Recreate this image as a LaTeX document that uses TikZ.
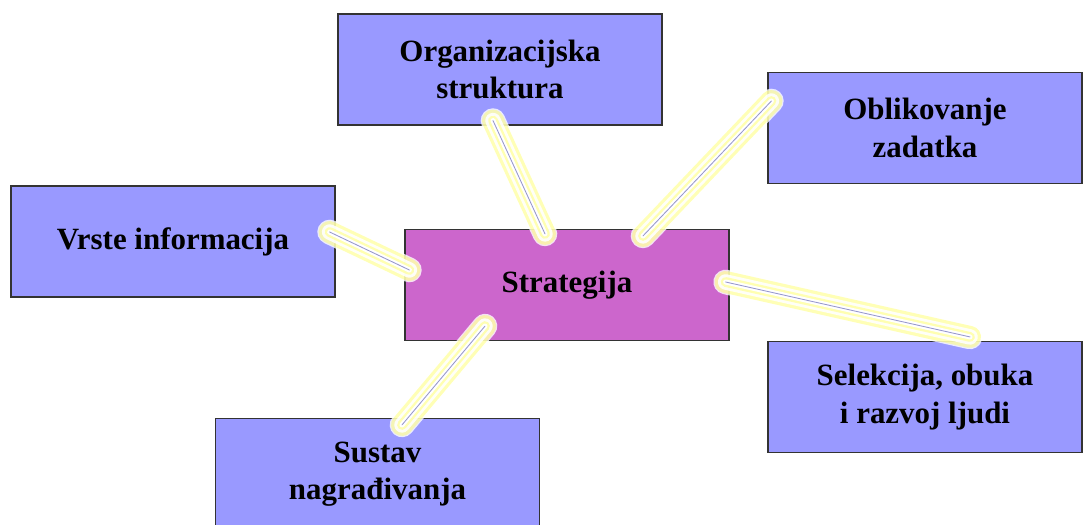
\documentclass[tikz,border=0pt]{standalone}
\usepackage{fontspec}
\setmainfont{Liberation Serif}
\usetikzlibrary{calc}

\definecolor{boxblue}{RGB}{153,153,255}
\definecolor{boxpink}{RGB}{204,102,204}
\definecolor{linkline}{RGB}{150,150,205}
\definecolor{glowyellow}{RGB}{255,255,110}

\begin{document}
\begin{tikzpicture}[x=0.025cm, y=-0.025cm,
    every node/.style={draw=black!80, line width=0.8pt, fill=boxblue, inner sep=0pt,
      minimum width=8.1cm, minimum height=2.775cm, align=center,
      font=\fontsize{22}{26.5}\selectfont\bfseries}]
  \useasboundingbox (0,0) rectangle (1083,525);
  \clip (0,0) rectangle (1083,525);
  \tikzset{link/.style={draw=linkline, line width=0.6pt, line cap=round,
      preaction={draw=white, opacity=0.8, line width=17.5pt, line cap=round},
      preaction={draw=glowyellow, opacity=0.5, line width=15.6pt, line cap=round},
      preaction={draw=white, opacity=0.9, line width=11pt, line cap=round},
      preaction={draw=glowyellow, opacity=0.5, line width=7pt, line cap=round},
      preaction={draw=white, line width=3.6pt, line cap=round}}}
  \node (org) at (500, 69.5) {Organizacijska\\struktura};
  \node[minimum width=7.85cm] (obl) at (925, 128) {Oblikovanje\\zadatka};
  \node (vrste) at (173, 241.5) {Vrste informacija};
  \node[fill=boxpink] (strat) at (567, 285) {Strategija};
  \node[minimum width=7.85cm] (sel) at (925, 397) {Selekcija, obuka\\i razvoj ljudi};
  \node (sus) at (377.5, 474) {Sustav\\nagrađivanja};

  % connector ends
  \coordinate (vrsteE) at ($(vrste.east)+(-6,-9.5)$);
  \coordinate (stratW) at ($(strat.west)+(5,-15)$);
  \coordinate (orgS) at ($(org.south)+(-7,-5)$);
  \coordinate (stratN1) at ($(strat.north)+(-22,5)$);
  \coordinate (oblW) at ($(obl.west)+(4,-27)$);
  \coordinate (stratN2) at ($(strat.north)+(76,7)$);
  \coordinate (stratE) at ($(strat.east)+(-4,-3)$);
  \coordinate (selN) at ($(sel.north)+(45,-4)$);
  \coordinate (stratS) at ($(strat.south)+(-82,-15)$);
  \coordinate (susN) at ($(sus.north)+(24.5,7)$);

  % connectors
  \path (vrsteE) edge [link] (stratW);
  \path (orgS) edge [link] (stratN1);
  \path (oblW) edge [link] (stratN2);
  \path (stratE) edge [link] (selN);
  \path (stratS) edge [link] (susN);
\end{tikzpicture}
\end{document}
